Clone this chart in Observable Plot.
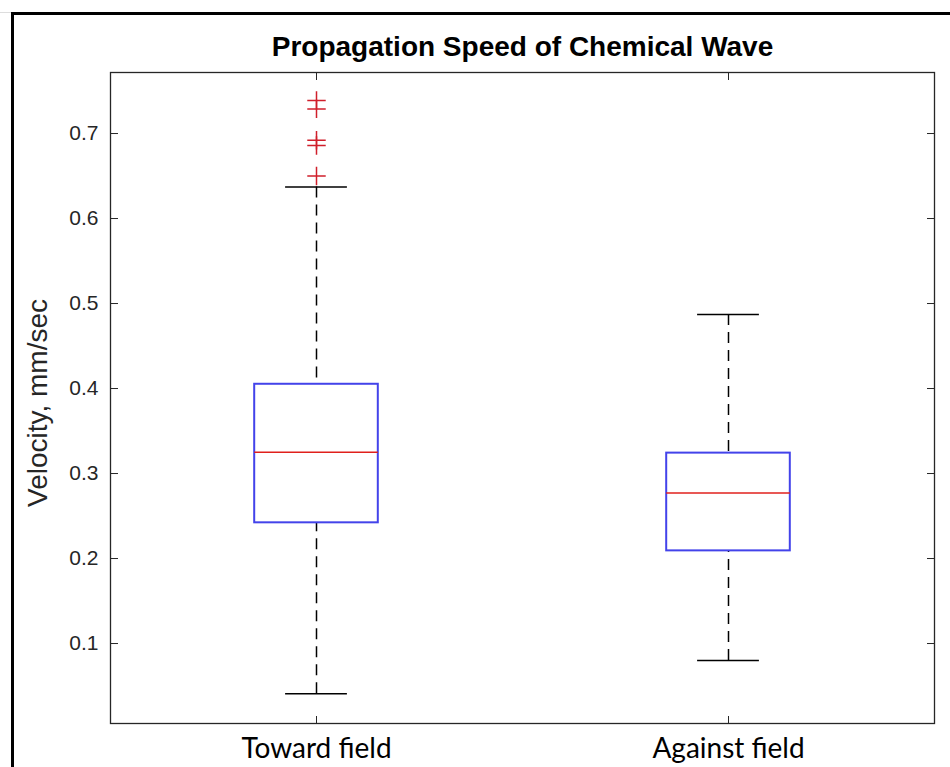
<!DOCTYPE html>
<html><head><meta charset="utf-8">
<script src="https://cdn.jsdelivr.net/npm/d3@7"></script>
<script src="https://cdn.jsdelivr.net/npm/@observablehq/plot@0.6"></script>
<style>
html,body{margin:0;padding:0;background:#fff;}
#wrap{position:relative;width:950px;height:767px;overflow:hidden;background:#fff;}
#wrap svg{position:absolute;left:0;top:0;background:transparent;}
#frame{position:absolute;left:11px;top:12px;width:1000px;height:1000px;border-left:3px solid #000;border-top:3px solid #000;z-index:2;}
#gray{position:absolute;left:0;top:12px;width:11px;height:1px;background:#ddd;}
</style></head><body>
<div id="wrap"><div id="gray"></div><div id="frame"></div></div>
<script>
const categories = ["Toward field", "Against field"];
const whiskerLow  = [0.041, 0.080];
const q1          = [0.242, 0.209];
const median      = [0.325, 0.277];
const q3          = [0.405, 0.324];
const whiskerHigh = [0.637, 0.487];
const outlierValues = [0.739, 0.729, 0.692, 0.686, 0.650];
const outlierGroups = ["Toward field", "Toward field", "Toward field", "Toward field", "Toward field"];
const yTicks = [0.1, 0.2, 0.3, 0.4, 0.5, 0.6, 0.7];
const titleText = "Propagation Speed of Chemical Wave";
const yLabel = "Velocity, mm/sec";

const boxes = categories.map((c, i) => ({
  name: c, pos: i + 1, lo: whiskerLow[i], q1: q1[i], med: median[i], q3: q3[i], hi: whiskerHigh[i]
}));
const outliers = outlierValues.map((v, i) => ({value: v, pos: categories.indexOf(outlierGroups[i]) + 1}));
const xTicks = categories.map((c, i) => i + 1);

const boxColor = "#4343ea";
const red = "#e0201c";
const axisColor = "#262626";
const bw = 0.15, cw = 0.075;

const chart = Plot.plot({
  width: 950, height: 767,
  marginLeft: 110, marginRight: 16, marginTop: 72, marginBottom: 44,
  style: {background: "transparent", fontFamily: "'Liberation Sans', Arial, sans-serif"},
  x: {domain: [0.5, 2.5]},
  y: {domain: [0.0059, 0.7718]},
  marks: [
    Plot.ruleX(boxes, {x: "pos", y1: "hi", y2: "q3", stroke: "#000", strokeWidth: 1.5, strokeDasharray: "11,7"}),
    Plot.ruleX(boxes, {x: "pos", y1: "lo", y2: "q1", stroke: "#000", strokeWidth: 1.5, strokeDasharray: "11,7"}),
    Plot.ruleY(boxes, {y: "hi", x1: d => d.pos - cw, x2: d => d.pos + cw, stroke: "#000", strokeWidth: 1.5}),
    Plot.ruleY(boxes, {y: "lo", x1: d => d.pos - cw, x2: d => d.pos + cw, stroke: "#000", strokeWidth: 1.5}),
    Plot.rect(boxes, {x1: d => d.pos - bw, x2: d => d.pos + bw, y1: "q1", y2: "q3", fill: "none", stroke: boxColor, strokeWidth: 2}),
    Plot.ruleY(boxes, {y: "med", x1: d => d.pos - bw, x2: d => d.pos + bw, stroke: red, strokeWidth: 1.5}),
    Plot.dot(outliers, {x: "pos", y: "value", symbol: "plus", r: 6, stroke: "#d01f2b", strokeWidth: 1.5}),
    Plot.axisY({anchor: "left", ticks: yTicks, tickSize: -8, tickFormat: () => "", label: null, stroke: axisColor}),
    Plot.axisY({anchor: "right", ticks: yTicks, tickSize: -8, tickFormat: () => "", label: null, stroke: axisColor}),
    Plot.axisX({anchor: "bottom", ticks: xTicks, tickSize: -7, tickFormat: () => "", label: null, stroke: axisColor}),
    Plot.axisX({anchor: "top", ticks: xTicks, tickSize: -7, tickFormat: () => "", label: null, stroke: axisColor}),
    Plot.frame({stroke: axisColor, strokeWidth: 1.3}),
    Plot.text(yTicks, {y: d => d, text: d => d.toFixed(1), frameAnchor: "left", dx: -12, textAnchor: "end", fontSize: 21, fill: axisColor}),
    Plot.text(categories, {x: (d, i) => i + 1, text: d => d, frameAnchor: "bottom", dy: 26, lineAnchor: "middle", fontSize: 28, fill: "#000", fontFamily: "Lato, 'Open Sans', sans-serif"}),
    Plot.text([yLabel], {text: d => d, frameAnchor: "left", dx: -72, dy: 5, rotate: -90, textAnchor: "middle", lineAnchor: "middle", fontSize: 28, fill: axisColor}),
    Plot.text([titleText], {text: d => d, frameAnchor: "top", dy: -25, lineAnchor: "middle", fontSize: 28, fontWeight: "bold", fill: "#000"})
  ]
});
document.getElementById("wrap").appendChild(chart);
</script>
</body></html>
